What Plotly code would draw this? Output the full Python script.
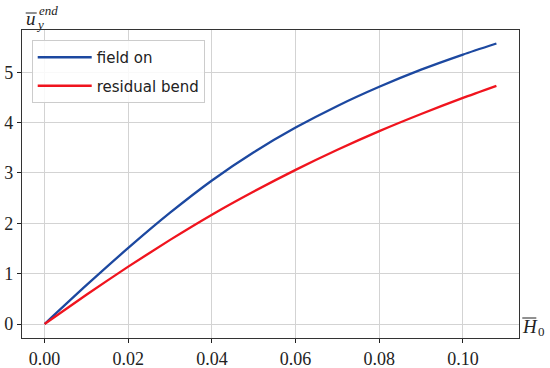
import plotly.graph_objects as go

# Data
h0 = [0.0, 0.01, 0.02, 0.03, 0.04, 0.05, 0.06, 0.07, 0.08, 0.09, 0.10, 0.108]
field_on = [0.0, 0.77, 1.51, 2.21, 2.85, 3.41, 3.90, 4.33, 4.71, 5.05, 5.35, 5.57]
residual_bend = [0.0, 0.58, 1.14, 1.67, 2.17, 2.63, 3.06, 3.46, 3.83, 4.17, 4.49, 4.73]
x_ticks = [0.00, 0.02, 0.04, 0.06, 0.08, 0.10]
x_tick_text = ["0.00", "0.02", "0.04", "0.06", "0.08", "0.10"]
y_ticks = [0, 1, 2, 3, 4, 5]
y_tick_text = ["0", "1", "2", "3", "4", "5"]

W, H = 550, 368
L, R, T, B = 22.3, 518.7, 30, 338
pw, ph = R - L, B - T


def px(x):
    return (x - L) / pw


def py(y):
    return (B - y) / ph


fig = go.Figure()
fig.add_trace(go.Scatter(x=h0, y=field_on, mode="lines", name="field on",
                         legendgroup="a",
                         line=dict(color="#1c48a0", width=2.3, shape="spline", smoothing=0.6)))
fig.add_trace(go.Scatter(x=h0, y=residual_bend, mode="lines", name="residual bend",
                         legendgroup="b",
                         line=dict(color="#f0141e", width=2.3, shape="spline", smoothing=0.6)))

serif = "Liberation Serif"
axis_common = dict(
    showgrid=True, gridcolor="#d3d3d3", gridwidth=1,
    showline=True, linecolor="#333333", linewidth=1.2, mirror=True,
    ticks="outside", ticklen=4, tickwidth=1, tickcolor="#222222",
    zeroline=False, automargin=False,
    tickfont=dict(family=serif, size=18, color="#222222"),
)
fig.update_xaxes(range=[-0.0054, 0.1134], tickvals=x_ticks, ticktext=x_tick_text, **axis_common)
fig.update_yaxes(range=[-0.278, 5.838], tickvals=y_ticks, ticktext=y_tick_text, **axis_common)

annotations = [
    dict(text="<i>u</i>", x=px(31.5), y=py(18.5), font=dict(family=serif, size=19, color="#222")),
    dict(text="<i>end</i>", x=px(48.5), y=py(10), font=dict(family=serif, size=13, color="#222")),
    dict(text="<i>y</i>", x=px(40.5), y=py(24.5), font=dict(family=serif, size=13, color="#222")),
    dict(text="<i>H</i>", x=px(529.5), y=py(326), font=dict(family=serif, size=19, color="#222")),
    dict(text="0", x=px(541), y=py(331), font=dict(family=serif, size=13, color="#222")),
]
for a in annotations:
    a.update(xref="paper", yref="paper", showarrow=False, xanchor="center", yanchor="middle")

shapes = [
    dict(type="line", xref="paper", yref="paper", x0=px(26), x1=px(37), y0=py(13), y1=py(13),
         line=dict(color="#222", width=1)),
    dict(type="line", xref="paper", yref="paper", x0=px(522), x1=px(536), y0=py(318), y1=py(318),
         line=dict(color="#222", width=1)),
]

fig.update_layout(
    width=W, height=H,
    margin=dict(l=L, r=W - R, t=T, b=H - B, autoexpand=False),
    plot_bgcolor="white", paper_bgcolor="white",
    showlegend=True,
    legend=dict(
        x=px(32), y=py(40), xanchor="left", yanchor="top",
        bgcolor="rgba(255,255,255,0.85)", bordercolor="#cccccc", borderwidth=1,
        font=dict(family="DejaVu Sans", size=15, color="#222"),
        traceorder="grouped", tracegroupgap=6, itemwidth=54,
    ),
    annotations=annotations,
    shapes=shapes,
)

fig.write_html("out.html", config={"displayModeBar": False},
               post_script="document.body.style.margin='0';document.body.style.overflow='hidden';")
